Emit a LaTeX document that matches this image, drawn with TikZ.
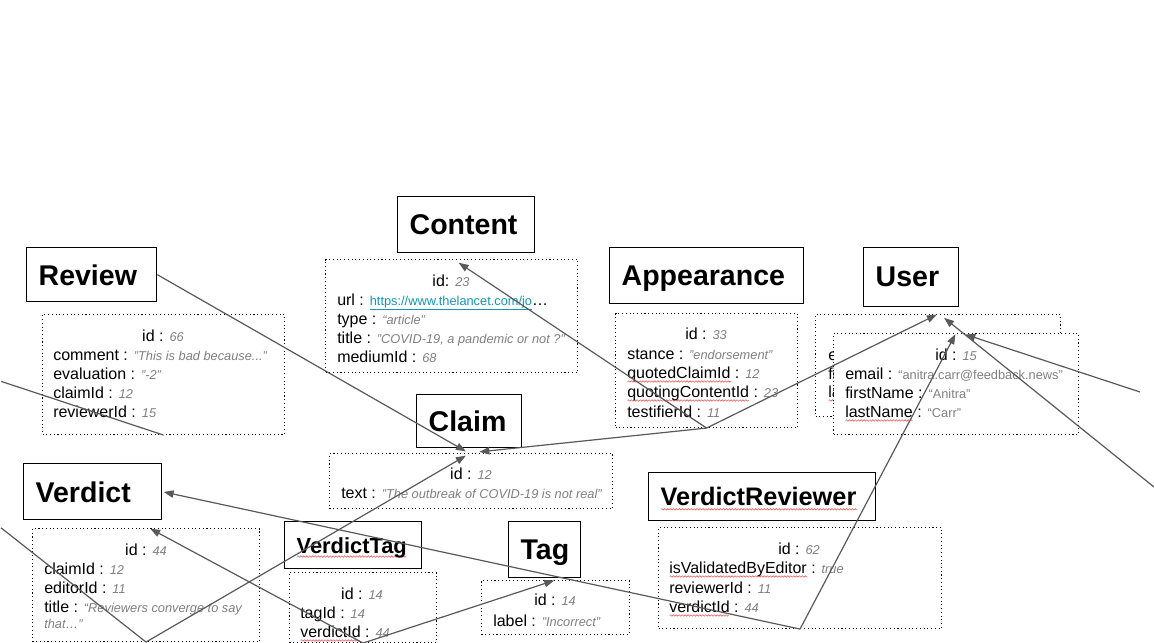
\documentclass[tikz,border=0pt]{standalone}
\usepackage{fontspec}
\setmainfont{Liberation Sans}
\usepackage{tikz}
\usetikzlibrary{arrows.meta,positioning,calc,decorations.pathmorphing}

\definecolor{linkgray}{RGB}{89,89,89}
\definecolor{valgray}{RGB}{128,128,128}
\definecolor{urlcyan}{RGB}{20,150,178}
\definecolor{spellred}{RGB}{232,96,96}

\tikzset{
    entity/.style={draw, line width=1pt, anchor=north west, inner xsep=9pt, inner ysep=0pt,
        align=left, text depth=0pt, font=\fontsize{21.4}{24}\selectfont\bfseries},
    attrs/.style={draw, line width=0.8pt, dash pattern=on 0.8pt off 2pt, anchor=north west, inner sep=0pt},
    field/.style={anchor=base west, inner sep=0pt, font=\fontsize{12}{14}\selectfont},
    idfield/.style={field, anchor=base},
    link/.style={draw=linkgray, line width=0.9pt},
    spellwave/.style={draw=spellred, line width=0.45pt, decorate,
        decoration={snake, amplitude=0.55pt, segment length=2.2pt}}
}

% values and spell-check marks
\newcommand\val[1]{{\fontsize{9.6}{11}\selectfont\itshape\color{valgray}#1}}
\newcommand\uval[1]{{\fontsize{9.6}{11}\selectfont\color{valgray}#1}}
\newcommand\weblink[1]{{\fontsize{9.6}{11}\selectfont\color{urlcyan}\underline{#1}}}
\newsavebox\spellbox
\newcommand\spell[1]{\sbox\spellbox{#1}\rlap{\tikz[baseline=0pt]\draw[spellwave] (0pt,-2.6pt) -- (\wd\spellbox,-2.6pt);}\usebox\spellbox}

\begin{document}
\begin{tikzpicture}[x=0.75pt,y=-0.75pt,>={Triangle[length=7.5pt,width=5.5pt]},shorten >=1pt]
    \useasboundingbox (0,0) rectangle (1154,643);
    \fill[white] (0,0) rectangle (1154,643);

    % Review
    \node[entity, text width=79.5pt, minimum height=40.5pt] (reviewHead) at (26,247) {Review};
    \node[attrs, minimum width=181.5pt, minimum height=90pt] (review) at (42,314) {};
    \node[idfield] (reviewId) at (163,341) {id : \val{66}};
    \node[field] (reviewComment) at (53,360) {comment : \val{"This is bad because..."}};
    \node[field] (reviewEval) at (53,379) {evaluation : \val{"-2"}};
    \node[field] (reviewClaim) at (53,398) {claimId : \val{12}};
    \node[field] (reviewReviewer) at (53,417) {reviewerId : \val{15}};

    % Content
    \node[entity, text width=84.75pt, minimum height=42pt] (contentHead) at (397,196) {Content};
    \node[attrs, minimum width=189pt, minimum height=84.75pt] (content) at (325,259) {};
    \node[idfield] (contentId) at (451,286) {id: \val{23}};
    \node[field] (contentUrl) at (337,305) {url : \weblink{https://www.thelancet.com/jo}…};
    \node[field] (contentType) at (337,324) {type : \val{“article”}};
    \node[field] (contentTitle) at (337,343) {title : \val{"COVID-19, a pandemic or not ?"}};
    \node[field] (contentMedium) at (337,362) {mediumId : \val{68}};

    % Appearance
    \node[entity, text width=127.5pt, minimum height=42pt] (appearanceHead) at (609,247) {Appearance};
    \node[attrs, minimum width=136.5pt, minimum height=85.5pt] (appearance) at (615,313) {};
    \node[idfield] (appearanceId) at (706,339) {id : \val{33}};
    \node[field] (appearanceStance) at (627,359) {stance : \val{"endorsement"}};
    \node[field] (appearanceClaim) at (627,378) {\spell{quotedClaimId} : \val{12}};
    \node[field] (appearanceContent) at (627,397) {\spell{quotingContentId} : \val{23}};
    \node[field] (appearanceTestifier) at (627,417) {testifierId : \val{11}};

    % User (two copies, one behind the other)
    \node[entity, text width=53.25pt, minimum height=44.25pt] (userHead) at (863,247) {User};
    \node[attrs, minimum width=183.75pt, minimum height=76.5pt] (userBack) at (815,314) {};
    \node[field] (userBackEmail) at (828,360) {e};
    \node[field] (userBackFirst) at (828,379) {fi};
    \node[field] (userBackLast) at (828,397) {\spell{la}};
    \node[attrs, fill=white, minimum width=183.75pt, minimum height=75.75pt] (userFront) at (833,333) {};
    \node[idfield] (userId) at (956,360) {id : \val{15}};
    \node[field] (userEmail) at (845,379) {email : \uval{“anitra.carr@feedback.news"}};
    \node[field] (userFirst) at (845,398) {firstName : \uval{“Anitra"}};
    \node[field] (userLast) at (845,417) {\spell{lastName} : \uval{“Carr"}};

    % Claim
    \node[entity, text width=60.75pt, minimum height=39.75pt] (claimHead) at (416,394) {Claim};
    \node[attrs, minimum width=212.25pt, minimum height=41.25pt] (claim) at (329,453) {};
    \node[idfield] (claimId) at (471,479) {id : \val{12}};
    \node[field] (claimTxt) at (341,498) {text : \val{"The outbreak of COVID-19 is not real"}};

    % Verdict
    \node[entity, text width=85.5pt, minimum height=42pt] (verdictHead) at (23,463) {Verdict};
    \node[attrs, minimum width=170.25pt, minimum height=84.75pt] (verdict) at (32,528) {};
    \node[idfield] (verdictId) at (146,555) {id : \val{44}};
    \node[field] (verdictClaim) at (44,574) {claimId : \val{12}};
    \node[field] (verdictEditor) at (44,593) {editorId : \val{11}};
    \node[field] (verdictTitle) at (44,612) {title : \val{“Reviewers converge to say}};
    \node[field] (verdictTitleEnd) at (44,628) {\val{that…”}};

    % VerdictTag
    \node[entity, text width=84.75pt, minimum height=35.25pt, font=\fontsize{16.4}{19}\selectfont\bfseries] (verdictTagHead) at (284,521) {\spell{VerdictTag}};
    \node[attrs, minimum width=110.25pt, minimum height=52.5pt] (verdictTag) at (289,572) {};
    \node[idfield] (verdictTagId) at (362,599) {id : \val{14}};
    \node[field] (verdictTagTag) at (300,618) {tagId : \val{14}};
    \node[field] (verdictTagVerdict) at (300,637) {\spell{verdictId} : \val{44}};

    % Tag
    \node[entity, text width=36pt, minimum height=42pt] (tagHead) at (508,521) {Tag};
    \node[attrs, minimum width=111pt, minimum height=40.5pt] (tag) at (481,580) {};
    \node[idfield] (tagId) at (555,605) {id : \val{14}};
    \node[field] (tagLabel) at (493,626) {label : \val{"Incorrect"}};

    % VerdictReviewer
    \node[entity, text width=152.25pt, minimum height=36pt, font=\fontsize{19}{22}\selectfont\bfseries] (verdictReviewerHead) at (648,472) {\spell{VerdictReviewer}};
    \node[attrs, minimum width=212.25pt, minimum height=75.75pt] (verdictReviewer) at (658,527) {};
    \node[idfield] (verdictReviewerId) at (799,554) {id : \val{62}};
    \node[field] (verdictReviewerValid) at (669,573) {\spell{isValidatedByEditor} : \val{true}};
    \node[field] (verdictReviewerReviewer) at (669,593) {reviewerId : \val{11}};
    \node[field] (verdictReviewerVerdict) at (669,612) {\spell{verdictId} : \val{44}};

    % loose ends past the page edge
    \coordinate (reviewOut) at (0,381);
    \coordinate (verdictOut) at (0,527);
    \coordinate (userIn1) at (1140,392);
    \coordinate (userIn2) at (1154,487);

    \draw[link,->] (reviewHead.east) -- ($(claim.north)+(-4,-1)$);
    \draw[link] (review.south) -- (reviewOut);
    \draw[link,->] (appearance.south) -- ($(content.north)+(6,3)$);
    \draw[link,->] (appearance.south) -- (userBack.north);
    \draw[link,->] (appearance.south) -- ($(claim.north)+(7,-1)$);
    \draw[link,->] (userIn1) -- ($(userFront.north)+(8,1)$);
    \draw[link,->] (userIn2) -- ($(userBack.north)+(5,3)$);
    \draw[link,->] (verdictReviewer.south) -- (userFront.north);
    \draw[link,->] (verdictReviewer.south) -- (verdictHead.east);
    \draw[link,->] (verdictTag.south) -- ($(verdict.north)+(3,0)$);
    \draw[link,->] (verdictTag.south) -- (tag.north);
    \draw[link,->] (verdict.south) -- ($(claim.north)+(-4,2)$);
    \draw[link] (verdict.south) -- (verdictOut);

\end{tikzpicture}
\end{document}
